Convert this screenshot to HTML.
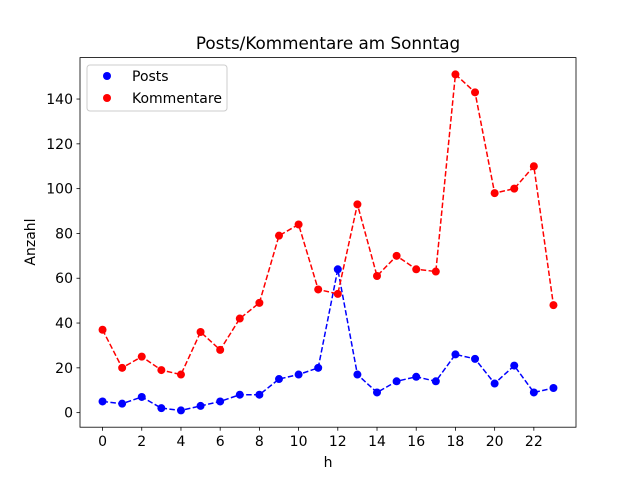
<!DOCTYPE html>
<html><head><meta charset="utf-8"><style>
body{margin:0;background:#fff;}
svg{display:block;font-family:"DejaVu Sans","Liberation Sans",sans-serif;}
</style></head><body>
<svg id="chart" width="640" height="480" viewBox="0 0 640 480" xmlns="http://www.w3.org/2000/svg">
<rect x="0" y="0" width="640" height="480" fill="#fff"/>
<text x="328" y="49" font-size="16.8" text-anchor="middle">Posts/Kommentare am Sonntag</text>
<g id="plot"></g>
<rect x="80" y="57.6" width="496" height="369.6" fill="none" stroke="#000" stroke-width="0.8"/>
<text x="328" y="467" font-size="14" text-anchor="middle">h</text>
<text x="35" y="242" font-size="14" text-anchor="middle" transform="rotate(-90 35 242)">Anzahl</text>
<g>
<rect x="87" y="65" width="140" height="46" rx="3" fill="#fff" fill-opacity="0.8" stroke="#ccc"/>
<circle cx="107" cy="76" r="4" fill="#0000ff"/>
<text x="132" y="81" font-size="14">Posts</text>
<circle cx="107" cy="98" r="4" fill="#ff0000"/>
<text x="132" y="103" font-size="14">Kommentare</text>
</g>
</svg>
<script>
const hours=[0,1,2,3,4,5,6,7,8,9,10,11,12,13,14,15,16,17,18,19,20,21,22,23];
const posts=[5,4,7,2,1,3,5,8,8,15,17,20,64,17,9,14,16,14,26,24,13,21,9,11];
const kommentare=[37,20,25,19,17,36,28,42,49,79,84,55,53,93,61,70,64,63,151,143,98,100,110,48];
const xTicks=[0,2,4,6,8,10,12,14,16,18,20,22];
const yTicks=[0,20,40,60,80,100,120,140];
const NS="http://www.w3.org/2000/svg";
const g=document.getElementById('plot');
const x0=-1.15,x1=24.15,y0=-6.5,y1=158.5;
function sx(v){return 80+(v-x0)/(x1-x0)*496;}
function sy(v){return 427.2-(v-y0)/(y1-y0)*369.6;}
function mk(t,a){const e=document.createElementNS(NS,t);for(const k in a)e.setAttribute(k,a[k]);g.appendChild(e);return e;}
xTicks.forEach(t=>{
 const l=mk('line',{x1:sx(t),x2:sx(t),y1:427.2,y2:430.7,stroke:'#000','stroke-width':0.8});
 
 
 const tx=mk('text',{x:sx(t),y:446,'font-size':14,'text-anchor':'middle'});tx.textContent=t;
 
 
});
yTicks.forEach(t=>{
 const l=mk('line',{x1:76.5,x2:80,y1:sy(t),y2:sy(t),stroke:'#000','stroke-width':0.8});
 
 
 const tx=mk('text',{x:73,y:sy(t)+5,'font-size':14,'text-anchor':'end'});tx.textContent=t;
 
 
});
function series(vals,color,name){
 const p=mk('polyline',{points:vals.map((v,i)=>sx(hours[i])+','+sy(v)).join(' '),fill:'none',stroke:color,'stroke-width':1.5,'stroke-dasharray':'5.5,2.4'});
 
 
 vals.forEach((v,i)=>{
  const c=mk('circle',{cx:sx(hours[i]),cy:sy(v),r:4,fill:color});
  
  
 });
}
series(posts,'#0000ff','posts');
series(kommentare,'#ff0000','kommentare');
</script>
</body></html>
